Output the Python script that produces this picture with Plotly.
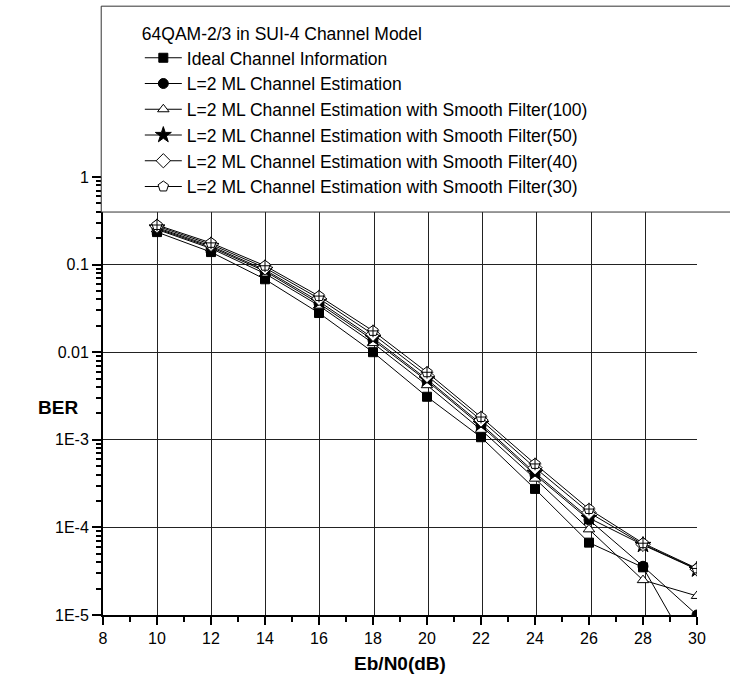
import plotly.graph_objects as go

ebn0 = [10, 12, 14, 16, 18, 20, 22, 24, 26, 28, 30]

ber_ideal = [0.235, 0.139, 0.068, 0.028, 0.0100, 0.0031, 0.00107, 2.75e-4, 6.7e-5, 3.5e-5, 2.9e-6]
ber_ml = [0.258, 0.158, 0.084, 0.036, 0.0138, 0.0047, 0.00145, 4.0e-4, 1.22e-4, 3.6e-5, 1.0e-5]
ber_sf100 = [0.252, 0.153, 0.079, 0.034, 0.0127, 0.0042, 0.00130, 3.6e-4, 9.5e-5, 2.5e-5, 1.65e-5]
ber_sf50 = [0.265, 0.163, 0.087, 0.038, 0.0145, 0.0049, 0.00152, 4.2e-4, 1.28e-4, 6.3e-5, 3.3e-5]
ber_sf40 = [0.275, 0.170, 0.092, 0.041, 0.0160, 0.0054, 0.00168, 4.8e-4, 1.48e-4, 6.4e-5, 3.35e-5]
ber_sf30 = [0.283, 0.177, 0.097, 0.0437, 0.0175, 0.0059, 0.00182, 5.3e-4, 1.62e-4, 6.6e-5, 3.4e-5]

names = [
    "Ideal Channel Information",
    "L=2 ML Channel Estimation",
    "L=2 ML Channel Estimation with Smooth Filter(100)",
    "L=2 ML Channel Estimation with Smooth Filter(50)",
    "L=2 ML Channel Estimation with Smooth Filter(40)",
    "L=2 ML Channel Estimation with Smooth Filter(30)",
]
legend_title = "64QAM-2/3 in SUI-4 Channel Model"

y_tickvals = [1e-5, 1e-4, 1e-3, 0.01, 0.1, 1]
y_ticktext = ["1E-5", "1E-4", "1E-3", "0.01", "0.1", "1"]

FONT = "Liberation Sans, Arial, sans-serif"

series = [
    (ber_ideal, dict(symbol="square", size=9, color="black", line=dict(color="black", width=1))),
    (ber_ml, dict(symbol="circle", size=10, color="black", line=dict(color="black", width=1))),
    (ber_sf100, dict(symbol="triangle-up", size=10, color="white", line=dict(color="black", width=1))),
    (ber_sf50, dict(symbol="star", size=12, color="black", line=dict(color="black", width=1))),
    (ber_sf40, dict(symbol="diamond", size=11, color="white", line=dict(color="black", width=1))),
    (ber_sf30, dict(symbol="pentagon", size=11, color="white", line=dict(color="black", width=1))),
]

fig = go.Figure()
for (vals, mk), nm in zip(series, names):
    fig.add_trace(go.Scatter(
        x=ebn0, y=vals, name=nm, mode="lines+markers",
        line=dict(color="black", width=1), marker=mk,
    ))
# cross inside the pentagon markers
fig.add_trace(go.Scatter(
    x=ebn0, y=ber_sf30, mode="markers", showlegend=False, hoverinfo="skip",
    marker=dict(symbol="cross-thin-open", size=9, color="black", line=dict(color="black", width=1)),
))
# empty trace to carry the grid-only x axis
fig.add_trace(go.Scatter(x=[], y=[], xaxis="x2", showlegend=False, hoverinfo="skip"))

# legend frame (covers top of plot, extends past right edge)
fig.add_shape(type="rect", xref="paper", yref="paper",
              x0=-0.003, x1=1.08, y0=0.920, y1=1.390,
              fillcolor="white", line=dict(color="#333333", width=1), layer="above")

fig.add_annotation(text="<b>BER</b>", xref="paper", yref="paper",
                   x=-0.113, y=0.473, showarrow=False,
                   font=dict(family=FONT, size=19, color="black"))

fig.update_layout(
    width=730, height=686,
    margin=dict(l=103, r=33, t=177, b=71),
    paper_bgcolor="white", plot_bgcolor="white",
    font=dict(family=FONT, size=16, color="black"),
    showlegend=True,
    legend=dict(
        title=dict(text=legend_title, font=dict(family=FONT, size=17.5, color="black")),
        font=dict(family=FONT, size=17.5, color="black"),
        x=0.062, y=1.365, xanchor="left", yanchor="top",
        bgcolor="rgba(0,0,0,0)", borderwidth=0,
        itemwidth=37, tracegroupgap=0,
    ),
    xaxis=dict(
        range=[8, 30], dtick=2, tick0=8,
        showline=True, linecolor="black", linewidth=2,
        ticks="outside", ticklen=8, tickwidth=2, tickcolor="black",
        showgrid=False,
        zeroline=False,
        minor=dict(dtick=1, ticks="outside", ticklen=5, tickwidth=2, tickcolor="black", showgrid=False),
        tickfont=dict(family=FONT, size=16, color="black"),
        title=dict(text="<b>Eb/N0(dB)</b>", font=dict(family=FONT, size=19, color="black"), standoff=10),
    ),
    xaxis2=dict(
        overlaying="x", anchor="y", range=[8, 29.9], dtick=2, tick0=8,
        showticklabels=False, ticks="", showline=False, zeroline=False,
        showgrid=True, gridcolor="#222222", gridwidth=1,
    ),
    yaxis=dict(
        type="log", range=[-5, 0],
        tickvals=y_tickvals, ticktext=y_ticktext,
        showline=True, linecolor="black", linewidth=2,
        ticks="outside", ticklen=9, tickwidth=2, tickcolor="black",
        showgrid=True, gridcolor="#222222", gridwidth=1,
        zeroline=False,
        minor=dict(dtick="D1", ticks="outside", ticklen=5, tickwidth=2, tickcolor="black", showgrid=False),
        tickfont=dict(family=FONT, size=16, color="black"),
    ),
)

fig.write_html("out.html")
